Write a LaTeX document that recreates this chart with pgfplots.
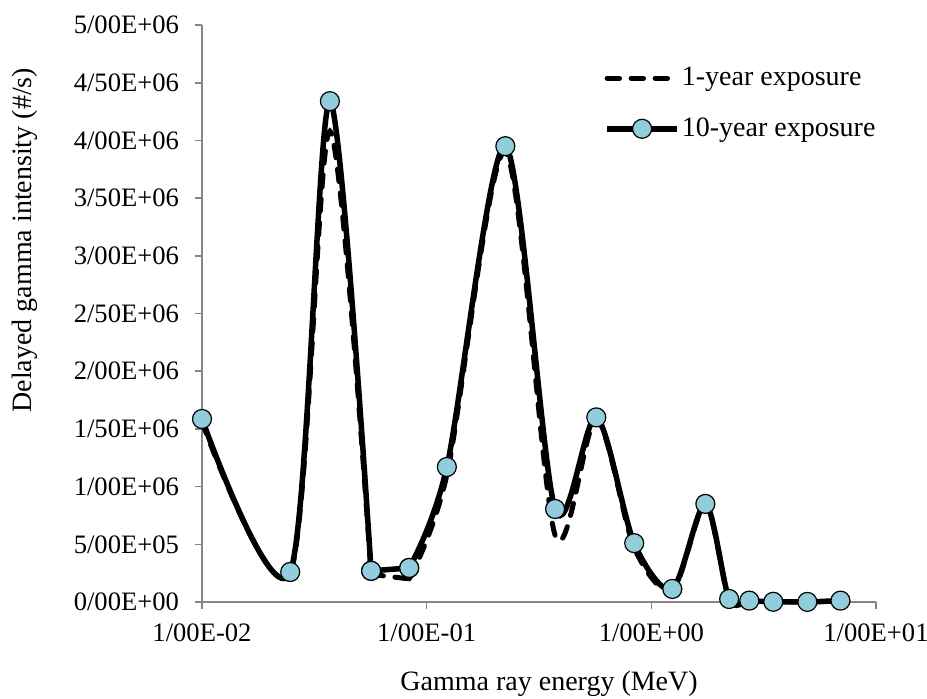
\documentclass[border=0pt]{standalone}
\usepackage{pgfplots}
\pgfplotsset{compat=1.18}
\usepackage{fontspec}
\setmainfont{Liberation Serif}
\definecolor{mk}{HTML}{92CDDC}
\definecolor{axgray}{HTML}{868686}
\pgfplotsset{
  legdash/.style={legend image code/.code={\draw[##1] (0pt,0pt) -- (33pt,0pt);}},
  legmark/.style={legend image code/.code={\draw[##1, mark repeat=2, mark phase=2] plot coordinates {(0pt,0pt) (17.5pt,0pt) (35pt,0pt)};}},
  oneyr/.style={black, line width=2.5pt, dash pattern=on 6.2pt off 5.8pt, line cap=round},
  tenyr/.style={black, line width=2.75pt, mark=*, mark size=4.75pt,
     mark options={fill=mk, draw=black, line width=0.6pt, solid}},
}
\begin{document}
\begin{tikzpicture}
\begin{axis}[
  scale only axis,
  width=337pt, height=288.5pt,
  xmode=log,
  xmin=0.01, xmax=10,
  ymin=0, ymax=5000000,
  axis x line*=bottom,
  axis y line*=left,
  axis line style={axgray, line width=0.8pt, -},
  tick style={axgray, line width=0.8pt},
  major tick length=3.5pt,
  tick align=outside,
  log basis x=10,
  xtick={0.01,0.1,1,10},
  xticklabels={1/00E-02,1/00E-01,1/00E+00,1/00E+01},
  ytick={0,500000,1000000,1500000,2000000,2500000,3000000,3500000,4000000,4500000,5000000},
  yticklabels={0/00E+00,5/00E+05,1/00E+06,1/50E+06,2/00E+06,2/50E+06,3/00E+06,3/50E+06,4/00E+06,4/50E+06,5/00E+06},
  scaled y ticks=false,
  xminorticks=false,
  ticklabel style={font=\fontsize{13.3}{16}\selectfont, text=black},
  yticklabel style={xshift=-4.5pt},
  xticklabel style={yshift=-4pt},
  xlabel={Gamma ray energy (MeV)},
  ylabel={Delayed gamma intensity (\#/s)},
  every axis x label/.style={at={(axis description cs:0.515,-0.142)}, anchor=center, font=\fontsize{14}{16}\selectfont},
  every axis y label/.style={at={(axis description cs:-0.2626,0.627)}, rotate=90, anchor=center, font=\fontsize{14}{16}\selectfont},
  legend style={at={(axis description cs:0.5964,0.934)}, anchor=north west, draw=none, fill=none,
     font=\fontsize{14}{16}\selectfont, row sep=10.5pt, inner sep=0pt, nodes={inner xsep=1pt}},
  legend cell align=left,
  clip=false,
]
% 1-year exposure
\addplot[oneyr, smooth, tension=0.5, legdash]
  coordinates {(0.01,1560000) (0.0247,250000) (0.0371,4080000) (0.0566,240000)};
\addlegendentry{1-year exposure}
\addplot[oneyr, forget plot] coordinates {(0.0566,240000) (0.0836,200000)};
\addplot[oneyr, smooth, tension=0.5, forget plot]
  coordinates {(0.0836,200000) (0.123,1100000) (0.224,3900000) (0.373,580000) (0.569,1580000) (0.839,470000)
  (1.24,100000) (1.74,840000) (2.22,20000) (2.73,8000) (3.49,2000) (4.95,1000) (6.95,9000)};
% 10-year exposure
\addplot[tenyr, smooth, tension=0.5, legmark]
  coordinates {(0.01,1586000) (0.0247,260000) (0.0371,4340000) (0.0566,270000)};
\addlegendentry{10-year exposure}
\addplot[tenyr, forget plot] coordinates {(0.0566,270000) (0.0836,295000)};
\addplot[tenyr, smooth, tension=0.5, forget plot]
  coordinates {(0.0836,295000) (0.123,1170000) (0.224,3950000) (0.373,806000) (0.569,1600000) (0.839,510000)
  (1.24,113000) (1.74,850000) (2.22,26000) (2.73,12000) (3.49,2000) (4.95,1000) (6.95,12000)};
\end{axis}
\pgfresetboundingbox
\path[use as bounding box] (-101pt,-48pt) rectangle (362.5pt,301pt);
\end{tikzpicture}
\end{document}
